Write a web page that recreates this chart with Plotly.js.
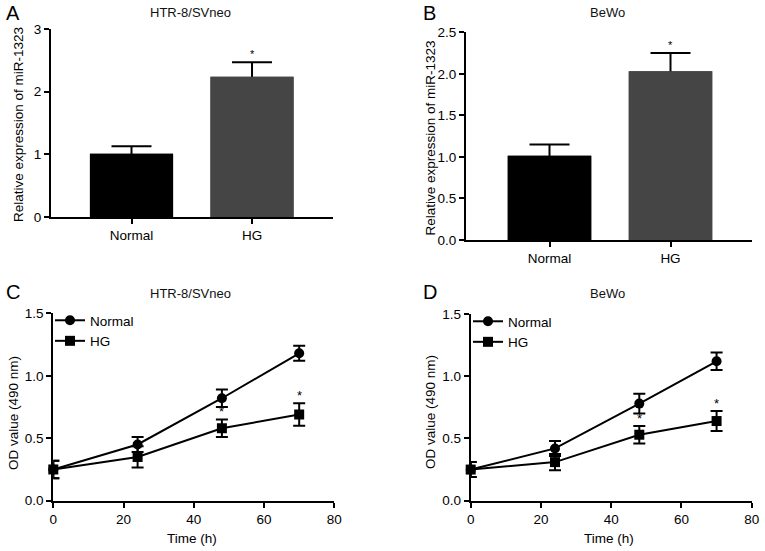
<!DOCTYPE html>
<html>
<head>
<meta charset="utf-8">
<script src="https://cdn.plot.ly/plotly-3.0.1.min.js"></script>
<style>
  html, body { margin: 0; padding: 0; background: #ffffff; }
  #chart { width: 765px; height: 551px; }
</style>
</head>
<body>
<div id="chart"></div>
<script>
// ---------- data ----------
const barCategories = ['Normal', 'HG'];
const barColors = ['#000000', '#454545'];
const miRA = [1.01, 2.24];          // HTR-8/SVneo relative expression
const miRAErr = [0.12, 0.23];
const miRASig = ['', '*'];
const miRB = [1.015, 2.03];         // BeWo relative expression
const miRBErr = [0.135, 0.22];
const miRBSig = ['', '*'];

const timeH = [0, 24, 48, 70];
const odCNormal = [0.25, 0.45, 0.82, 1.18];
const odCNormalErr = [0.07, 0.06, 0.07, 0.06];
const odCHG = [0.25, 0.35, 0.58, 0.69];
const odCHGErr = [0.07, 0.085, 0.07, 0.09];
const odCSig = ['', '', '*', '*'];

const odDNormal = [0.25, 0.42, 0.78, 1.12];
const odDNormalErr = [0.06, 0.06, 0.08, 0.07];
const odDHG = [0.25, 0.31, 0.53, 0.64];
const odDHGErr = [0.06, 0.065, 0.07, 0.08];
const odDSig = ['', '', '*', '*'];

const panelTitles = ['HTR-8/SVneo', 'BeWo', 'HTR-8/SVneo', 'BeWo'];
const panelLetters = ['A', 'B', 'C', 'D'];
const yTitleBar = 'Relative expression of miR-1323';
const yTitleLine = 'OD value (490 nm)';
const xTitleLine = 'Time (h)';

// ---------- styling ----------
const FONT = 'Liberation Sans, Arial, Helvetica, sans-serif';
const W = 765, H = 551;
const px = v => v / W;
const py = v => 1 - v / H;

// bars with symmetric error bars, then the same bars again on top (overlay)
// so that only the upper half of each error bar stays visible
function barTraces(vals, errs, xa, ya) {
  const base = {
    type: 'bar', x: barCategories, y: vals, xaxis: xa, yaxis: ya,
    width: 0.69, showlegend: false,
    marker: { color: barColors, line: { width: 0 } },
    hoverinfo: 'skip'
  };
  return [
    Object.assign({}, base, {
      error_y: { type: 'data', array: errs, color: '#000', thickness: 2, width: 20 }
    }),
    Object.assign({}, base)
  ];
}
function lineTrace(name, xs, ys, errs, sym, xa, ya, leg) {
  return {
    type: 'scatter', mode: 'lines+markers', name: name, x: xs, y: ys,
    xaxis: xa, yaxis: ya, legend: leg, cliponaxis: false,
    line: { color: '#000', width: 2 },
    marker: { color: '#000', size: 10, symbol: sym },
    error_y: { type: 'data', array: errs, color: '#000', thickness: 2, width: 6 },
    hoverinfo: 'skip'
  };
}

const data = [].concat(
  barTraces(miRA, miRAErr, 'x', 'y'),
  barTraces(miRB, miRBErr, 'x2', 'y2'),
  [
    lineTrace('Normal', timeH, odCNormal, odCNormalErr, 'circle', 'x3', 'y3', 'legend'),
    lineTrace('HG', timeH, odCHG, odCHGErr, 'square', 'x3', 'y3', 'legend'),
    lineTrace('Normal', timeH, odDNormal, odDNormalErr, 'circle', 'x4', 'y4', 'legend2'),
    lineTrace('HG', timeH, odDHG, odDHGErr, 'square', 'x4', 'y4', 'legend2')
  ]
);

const axisBase = {
  showline: true, linecolor: '#000', linewidth: 2,
  ticks: 'outside', ticklen: 5, tickwidth: 2, tickcolor: '#000',
  showgrid: false, zeroline: false, fixedrange: true,
  tickfont: { family: FONT, size: 13.5, color: '#000' }
};
function ax(extra) { return Object.assign({}, axisBase, extra); }

const annotations = [];
// titles
[[190, 12.5], [607, 12.5], [190, 293], [607, 293]].forEach((p, i) => {
  annotations.push({ xref: 'paper', yref: 'paper', x: px(p[0]), y: py(p[1]),
    xanchor: 'center', yanchor: 'middle', showarrow: false, text: panelTitles[i],
    font: { family: FONT, size: 13, color: '#111' } });
});
// panel letters
[[4, 13.5], [421, 13.5], [4, 291.5], [421, 291.5]].forEach((p, i) => {
  annotations.push({ xref: 'paper', yref: 'paper', x: px(p[0]), y: py(p[1]),
    xanchor: 'left', yanchor: 'middle', showarrow: false, text: panelLetters[i],
    font: { family: FONT, size: 20, color: '#000' } });
});
// y-axis titles
[[19, 125, yTitleBar], [430, 138.5, yTitleBar], [13, 413, yTitleLine], [430, 412, yTitleLine]].forEach(p => {
  annotations.push({ xref: 'paper', yref: 'paper', x: px(p[0]), y: py(p[1]),
    xanchor: 'center', yanchor: 'middle', showarrow: false, text: p[2], textangle: -90,
    font: { family: FONT, size: 13.5, color: '#000' } });
});
// x-axis titles
[[192, 538], [609, 538]].forEach(p => {
  annotations.push({ xref: 'paper', yref: 'paper', x: px(p[0]), y: py(p[1]),
    xanchor: 'center', yanchor: 'middle', showarrow: false, text: xTitleLine,
    font: { family: FONT, size: 13.5, color: '#000' } });
});
// significance stars
function stars(xs, ys, errs, sig, xr, yr, size, shift) {
  sig.forEach((s, i) => {
    if (!s) return;
    annotations.push({ xref: xr, yref: yr, x: xs[i], y: ys[i] + errs[i],
      xanchor: 'center', yanchor: 'bottom', showarrow: false, text: s, yshift: shift,
      font: { family: FONT, size: size, color: '#000' } });
  });
}
stars(barCategories, miRA, miRAErr, miRASig, 'x', 'y', 11, 0);
stars(barCategories, miRB, miRBErr, miRBSig, 'x2', 'y2', 11, 0);
stars(timeH, odCHG, odCHGErr, odCSig, 'x3', 'y3', 13, -2);
stars(timeH, odDHG, odDHGErr, odDSig, 'x4', 'y4', 13, -2);

const legendBase = {
  xanchor: 'left', yanchor: 'top', bgcolor: 'rgba(0,0,0,0)', borderwidth: 0,
  font: { family: FONT, size: 13.5, color: '#000' }, itemwidth: 30,
  tracegroupgap: 0
};

const layout = {
  width: W, height: H,
  margin: { l: 0, r: 0, t: 0, b: 0 },
  paper_bgcolor: '#fff', plot_bgcolor: '#fff',
  font: { family: FONT, color: '#000' },
  barmode: 'overlay',
  xaxis: ax({ domain: [px(51), px(333)], anchor: 'y', type: 'category', range: [-0.668, 1.672] }),
  yaxis: ax({ domain: [py(217), py(29)], anchor: 'x', range: [0, 3], dtick: 1 }),
  xaxis2: ax({ domain: [px(466), px(751.7)], anchor: 'y2', type: 'category', range: [-0.69, 1.671] }),
  yaxis2: ax({ domain: [py(240), py(32.3)], anchor: 'x2', range: [0, 2.5], dtick: 0.5, tickformat: '.1f' }),
  xaxis3: ax({ domain: [px(53.3), px(334.3)], anchor: 'y3', range: [0, 80], dtick: 20 }),
  yaxis3: ax({ domain: [py(500.7), py(313.3)], anchor: 'x3', range: [0, 1.5], dtick: 0.5, tickformat: '.1f' }),
  xaxis4: ax({ domain: [px(470.7), px(751.7)], anchor: 'y4', range: [0, 80], dtick: 20 }),
  yaxis4: ax({ domain: [py(500.7), py(314)], anchor: 'x4', range: [0, 1.5], dtick: 0.5, tickformat: '.1f' }),
  legend: Object.assign({}, legendBase, { x: px(50), y: py(305) }),
  legend2: Object.assign({}, legendBase, { x: px(468), y: py(306) }),
  showlegend: true,
  annotations: annotations
};

Plotly.newPlot('chart', data, layout, { staticPlot: true, displayModeBar: false });
</script>
</body>
</html>
